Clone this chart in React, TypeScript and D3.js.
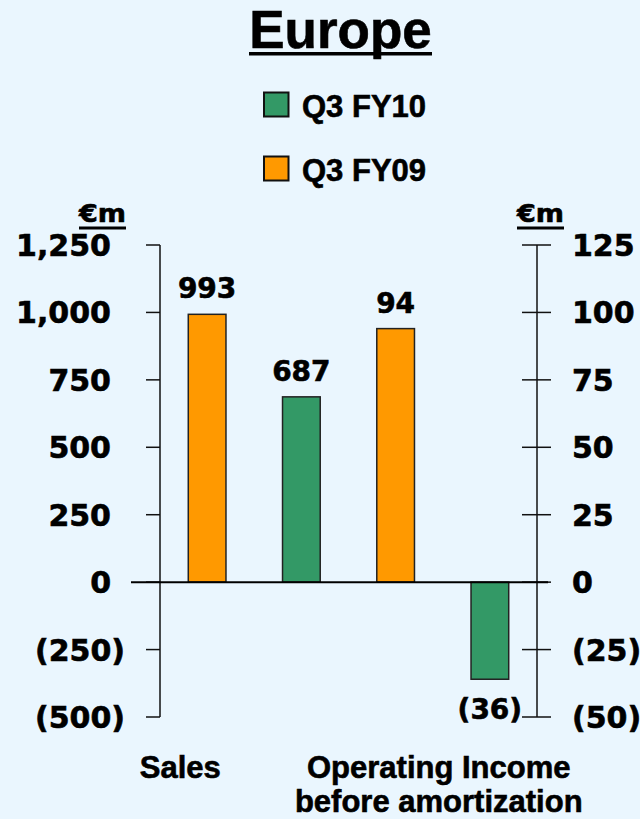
import React from "react";
import * as d3 from "d3";

const title = "Europe";
const unitLabel = "€m";
const categories = ["Sales", "Operating Income before amortization"];
const categoryLines = [["Sales"], ["Operating Income", "before amortization"]];
const barOrder = ["Q3 FY09", "Q3 FY10"];
const legendOrder = ["Q3 FY10", "Q3 FY09"];
const fy10Values = [687, -36];
const fy09Values = [993, 94];
const leftTicks = [1250, 1000, 750, 500, 250, 0, -250, -500];
const rightTicks = [125, 100, 75, 50, 25, 0, -25, -50];

const W = 640;
const H = 819;
const BG = "#EAF6FE";
const GREEN = "#339966";
const ORANGE = "#FF9900";
const SANS = "'Liberation Sans', Arial, sans-serif";
const NUM = "'DejaVu Sans', Verdana, sans-serif";
const HEAVY = { stroke: "#000", strokeWidth: 0.6 };

const colorOf: Record<string, string> = { "Q3 FY10": GREEN, "Q3 FY09": ORANGE };
const valuesOf: Record<string, number[]> = { "Q3 FY10": fy10Values, "Q3 FY09": fy09Values };

const fmt = (v: number) => (v < 0 ? `(${d3.format(",")(-v)})` : d3.format(",")(v));

export default function App() {
  const plotLeft = 160;
  const plotRight = 537;
  const plotTop = 245;
  const plotBottom = 717;

  const x0 = d3.scaleBand<string>().domain(categories).range([plotLeft, plotRight]).padding(0);
  const x1 = d3
    .scaleBand<string>()
    .domain(barOrder)
    .range([0, x0.bandwidth()])
    .paddingInner(0.6)
    .paddingOuter(0.3);
  const yLeft = d3.scaleLinear().domain([-500, 1250]).range([plotBottom, plotTop]);
  const yRight = d3.scaleLinear().domain([-50, 125]).range([plotBottom, plotTop]);
  const scaleFor = (ci: number) => (ci === 0 ? yLeft : yRight);

  const bars: { key: string; x: number; w: number; y: number; h: number; v: number; c: string; cx: number }[] = [];
  categories.forEach((cat, ci) => {
    const ys = scaleFor(ci);
    barOrder.forEach((s) => {
      const v = valuesOf[s][ci];
      const bx = (x0(cat) ?? 0) + (x1(s) ?? 0);
      const top = ys(Math.max(0, v));
      const bot = ys(Math.min(0, v));
      bars.push({ key: cat + s, x: bx, w: x1.bandwidth(), y: top, h: bot - top, v, c: colorOf[s], cx: bx + x1.bandwidth() / 2 });
    });
  });

  const zeroY = yLeft(0);
  const labelOffsets = [-74, -4];

  return (
    <svg width={W} height={H} style={{ position: "absolute", left: 0, top: 0, display: "block" }}>
      <rect x={0} y={0} width={W} height={H} fill={BG} />
      {/* Title */}
      <text x={340.5} y={48} textAnchor="middle" fontFamily={SANS} fontWeight="bold" fontSize={53} fill="#000" {...HEAVY}>
        {title}
      </text>
      <rect x={249} y={52} width={183} height={3.5} fill="#000" />

      {/* Legend */}
      {legendOrder.map((s, i) => (
        <g key={s} transform={`translate(0, ${i * 64})`}>
          <rect x={264} y={92.5} width={24.5} height={24} fill={colorOf[s]} stroke="#111" strokeWidth={2} />
          <text x={302} y={117} fontFamily={SANS} fontWeight="bold" fontSize={31} fill="#000" {...HEAVY}>
            {s}
          </text>
        </g>
      ))}

      {/* Unit labels */}
      <text x={79} y={222} fontFamily={NUM} fontWeight="bold" fontSize={24} textLength={47} lengthAdjust="spacingAndGlyphs" fill="#000" {...HEAVY}>
        {unitLabel}
      </text>
      <rect x={79} y={226.5} width={47} height={3} fill="#000" />
      <text x={517} y={222} fontFamily={NUM} fontWeight="bold" fontSize={24} textLength={47} lengthAdjust="spacingAndGlyphs" fill="#000" {...HEAVY}>
        {unitLabel}
      </text>
      <rect x={517} y={226.5} width={47} height={3} fill="#000" />

      {/* Left axis */}
      <line x1={plotLeft} x2={plotLeft} y1={yLeft(1250)} y2={yLeft(-500)} stroke="#111" strokeWidth={1.5} />
      {leftTicks.map((t) => (
        <g key={"l" + t}>
          <line x1={146} x2={plotLeft} y1={yLeft(t)} y2={yLeft(t)} stroke="#111" strokeWidth={1.5} />
          <text
            x={t < 0 ? 125 : 111}
            y={yLeft(t) + 11}
            textAnchor="end"
            fontFamily={NUM}
            fontWeight="bold"
            fontSize={30}
            fill="#000"
            {...HEAVY}
          >
            {fmt(t)}
          </text>
        </g>
      ))}

      {/* Right axis */}
      <line x1={plotRight} x2={plotRight} y1={yRight(125)} y2={yRight(-50)} stroke="#111" strokeWidth={1.5} />
      {rightTicks.map((t) => (
        <g key={"r" + t}>
          <line x1={522} x2={551} y1={yRight(t)} y2={yRight(t)} stroke="#111" strokeWidth={1.5} />
          <text x={572} y={yRight(t) + 11} fontFamily={NUM} fontWeight="bold" fontSize={30} fill="#000" {...HEAVY}>
            {fmt(t)}
          </text>
        </g>
      ))}

      {/* Bars */}
      {bars.map((b) => (
        <g key={b.key}>
          <rect x={b.x} y={b.y} width={b.w} height={b.h} fill={b.c} stroke="#222" strokeWidth={1.5} />
          <text
            x={b.cx}
            y={b.v >= 0 ? b.y - 16 : b.y + b.h + 40}
            textAnchor="middle"
            fontFamily={NUM}
            fontWeight="bold"
            fontSize={28}
            fill="#000"
            {...HEAVY}
          >
            {fmt(b.v)}
          </text>
        </g>
      ))}

      {/* Zero line */}
      <line x1={131} x2={548} y1={zeroY} y2={zeroY} stroke="#000" strokeWidth={2} />

      {/* Category labels */}
      {categories.map((cat, ci) => (
        <text
          key={cat}
          x={(x0(cat) ?? 0) + x0.bandwidth() / 2 + labelOffsets[ci]}
          y={778}
          textAnchor="middle"
          fontFamily={SANS}
          fontWeight="bold"
          fontSize={31}
          fill="#000"
          {...HEAVY}
        >
          {categoryLines[ci].map((line, li) => (
            <tspan key={li} x={(x0(cat) ?? 0) + x0.bandwidth() / 2 + labelOffsets[ci]} dy={li === 0 ? 0 : 34}>
              {line}
            </tspan>
          ))}
        </text>
      ))}
    </svg>
  );
}
